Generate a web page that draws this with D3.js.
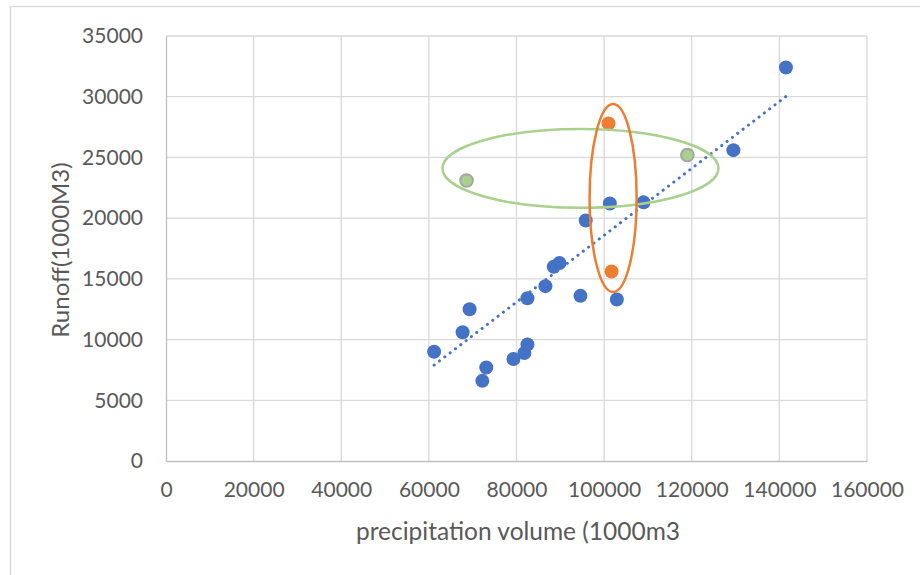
<!DOCTYPE html>
<html>
<head>
<meta charset="utf-8">
<script src="https://cdn.jsdelivr.net/npm/d3@7"></script>
<style>
  body { margin: 0; background: #fff; }
  text { font-family: Lato, "Open Sans", sans-serif; fill: #595959; }
</style>
</head>
<body>
<script>
// precipitation volume (1000m3) and runoff (1000M3)
var precip = [141500, 129500, 101300, 109000, 95800, 89800, 88500, 86600, 82500, 94600,
              102900, 69300, 67700, 61200, 82500, 81800, 79300, 73100, 72200];
var runoff = [32400, 25600, 21200, 21300, 19800, 16300, 16000, 14400, 13400, 13600,
              13300, 12500, 10600, 9000, 9600, 8900, 8400, 7700, 6600];
// highlighted points
var orangeX = [101000, 101700];
var orangeY = [27800, 15600];
var greenX = [68600, 119000];
var greenY = [23100, 25200];

var xTicks = [0, 20000, 40000, 60000, 80000, 100000, 120000, 140000, 160000];
var yTicks = [0, 5000, 10000, 15000, 20000, 25000, 30000, 35000];

// ellipse annotations in data units: cx, cy, rx, ry
var ellipses = [
  { cx: 94600, cy: 24100, rx: 31500, ry: 3250, color: '#A9D18E' },
  { cx: 102050, cy: 21650, rx: 5370, ry: 7740, color: '#ED7D31' }
];

function main(){
    var W = 920, H = 575;
    var svg = d3.select('body').append('svg')
        .attr('width', W).attr('height', H);

    // chart border
    svg.append('rect')
        .attr('x', 10.5).attr('y', 6.5)
        .attr('width', 1000).attr('height', 1000)
        .attr('fill', 'none').attr('stroke', '#d9d9d9').attr('stroke-width', 1.3);

    var x = d3.scaleLinear().domain([0, 160000]).range([166, 867]);
    var y = d3.scaleLinear().domain([0, 35000]).range([461, 36]);

    // gridlines
    svg.append('g').selectAll('line').data(xTicks.slice(1)).join('line')
        .attr('x1', d => x(d)).attr('x2', d => x(d))
        .attr('y1', y(0)).attr('y2', y(35000))
        .attr('stroke', '#d9d9d9').attr('stroke-width', 1.3);
    svg.append('g').selectAll('line').data(yTicks.slice(1)).join('line')
        .attr('x1', x(0)).attr('x2', x(160000))
        .attr('y1', d => y(d)).attr('y2', d => y(d))
        .attr('stroke', '#d9d9d9').attr('stroke-width', 1.3);

    // axes
    var xAxis = svg.append('g').attr('transform', 'translate(0,' + y(0) + ')')
        .call(d3.axisBottom(x).tickValues(xTicks).tickSize(0).tickPadding(21).tickFormat(d3.format('d')));
    var yAxis = svg.append('g').attr('transform', 'translate(' + x(0) + ',0)')
        .call(d3.axisLeft(y).tickValues(yTicks).tickSize(0).tickPadding(23).tickFormat(d3.format('d')));
    [xAxis, yAxis].forEach(function(a){
        a.select('.domain').attr('stroke', '#bfbfbf').attr('stroke-width', 1.3);
        a.selectAll('text').style('font-size', '21px').attr('fill', '#595959');
    });

    // axis titles
    svg.append('text')
        .attr('x', 518).attr('y', 540)
        .attr('text-anchor', 'middle')
        .style('font-size', '24.5px')
        .text('precipitation volume (1000m3');
    svg.append('text')
        .attr('transform', 'translate(69,' + 250 + ') rotate(-90)')
        .attr('text-anchor', 'middle')
        .style('font-size', '24px')
        .text('Runoff(1000M3)');

    // linear trendline over all points
    var allX = precip.concat(orangeX, greenX);
    var allY = runoff.concat(orangeY, greenY);
    var mx = d3.mean(allX), my = d3.mean(allY);
    var sxy = d3.sum(allX, (v, i) => (v - mx) * (allY[i] - my));
    var sxx = d3.sum(allX, v => (v - mx) * (v - mx));
    var slope = sxy / sxx, icpt = my - slope * mx;
    var ext = d3.extent(allX);
    svg.append('line')
        .attr('x1', x(ext[0])).attr('y1', y(icpt + slope * ext[0]))
        .attr('x2', x(ext[1])).attr('y2', y(icpt + slope * ext[1]))
        .attr('stroke', '#4472C4').attr('stroke-width', 3)
        .attr('stroke-linecap', 'round')
        .attr('stroke-dasharray', '0.1 6.6');

    // points
    svg.append('g').selectAll('circle').data(precip).join('circle')
        .attr('cx', d => x(d)).attr('cy', (d, i) => y(runoff[i]))
        .attr('r', 7).attr('fill', '#4472C4');
    svg.append('g').selectAll('circle').data(orangeX).join('circle')
        .attr('cx', d => x(d)).attr('cy', (d, i) => y(orangeY[i]))
        .attr('r', 7).attr('fill', '#ED7D31');
    svg.append('g').selectAll('circle').data(greenX).join('circle')
        .attr('cx', d => x(d)).attr('cy', (d, i) => y(greenY[i]))
        .attr('r', 6.3).attr('fill', '#A9D18E')
        .attr('stroke', '#A5A5A5').attr('stroke-width', 2);

    // ellipses
    svg.append('g').selectAll('ellipse').data(ellipses).join('ellipse')
        .attr('cx', d => x(d.cx)).attr('cy', d => y(d.cy))
        .attr('rx', d => x(d.rx) - x(0)).attr('ry', d => y(0) - y(d.ry))
        .attr('fill', 'none')
        .attr('stroke', d => d.color).attr('stroke-width', 2.5);
}
main();
</script>
</body>
</html>
